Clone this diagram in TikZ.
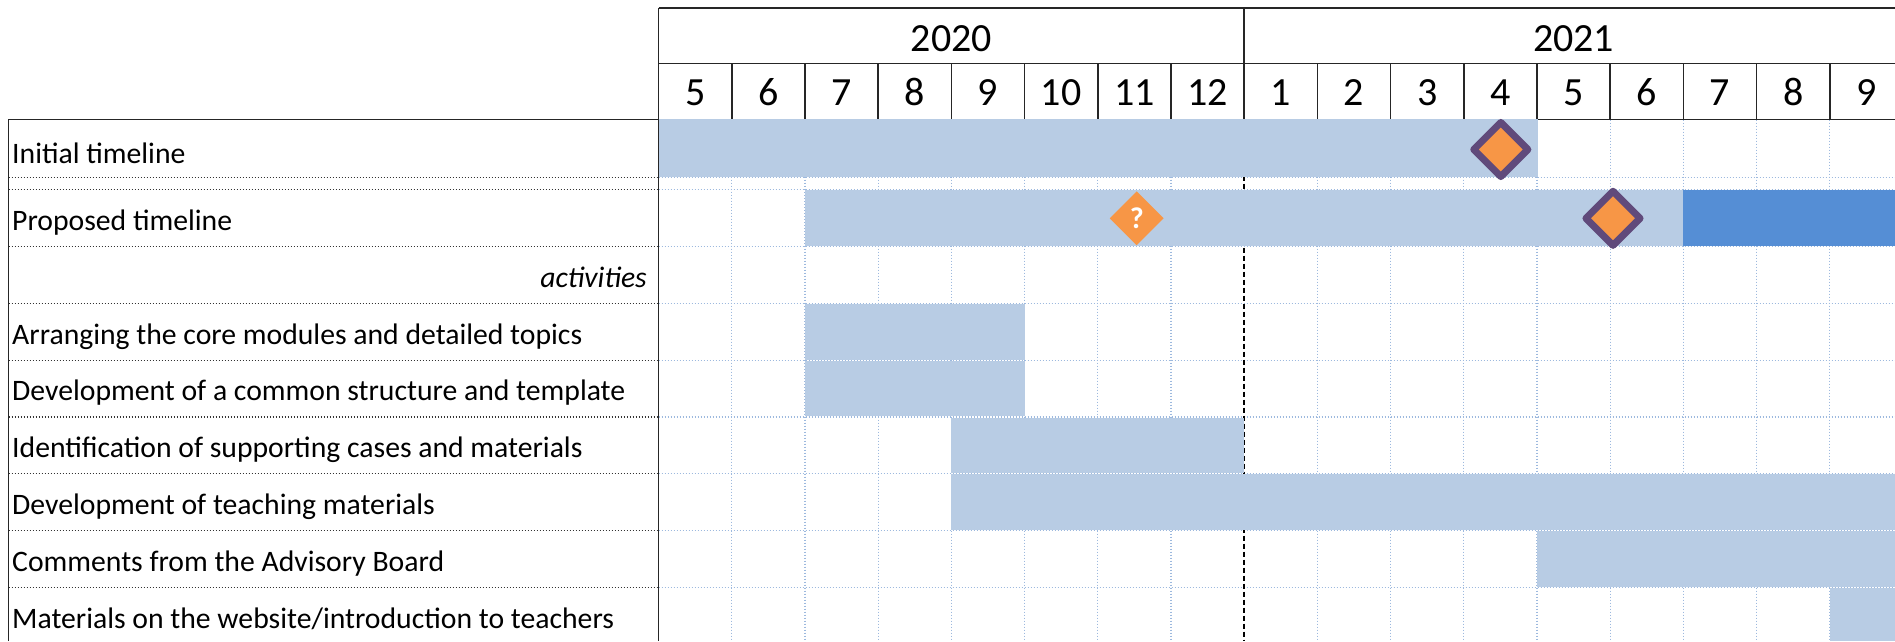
\documentclass[tikz,border=0pt]{standalone}
\usepackage{fontspec}
\setmainfont{Carlito}
\usetikzlibrary{shapes.geometric}
\definecolor{barlight}{HTML}{B8CCE4}
\definecolor{bardark}{HTML}{558ED5}
\definecolor{msorange}{HTML}{F79646}
\definecolor{mspurple}{HTML}{604A7B}
\definecolor{gridblue}{HTML}{9DB9DE}
\tikzset{
  hdrline/.style={line width=1.6pt, draw=black!85},
  gridline/.style={line width=1.2pt, draw=gridblue, dash pattern=on 1.5pt off 1.5pt},
  labline/.style={line width=1.2pt, draw=black!80, dash pattern=on 1.5pt off 1.5pt},
  yeardash/.style={line width=2pt, draw=black, dash pattern=on 5pt off 3pt},
  lightbar/.style={fill=barlight},
  darkbar/.style={fill=bardark},
  lab/.style={anchor=base west, inner sep=0pt, font=\fontsize{29.7}{35}\selectfont},
  hdrtext/.style={anchor=base, inner sep=0pt, font=\fontsize{40}{48}\selectfont},
  milestone/.style={diamond, aspect=1, minimum width=57pt, minimum height=57pt, inner sep=0pt,
     fill=msorange, draw=mspurple, line width=7pt, line join=round},
  qmilestone/.style={diamond, aspect=1, minimum width=54pt, minimum height=54pt, inner sep=0pt,
     fill=msorange, text=white, font=\fontsize{30}{34}\selectfont\bfseries},
}
\begin{document}
\begin{tikzpicture}[x=1pt,y=-1pt]
\useasboundingbox (0,0) rectangle (1895,641);
\clip (0,0) rectangle (1895,641);
\fill[white] (0,0) rectangle (1895,641);
% grid lines in the chart area
\foreach \k in {1,...,16} {
  \ifnum\k=8\relax\else
    \draw[gridline] ({658.6+73.2*\k},119.6) -- ({658.6+73.2*\k},641);
  \fi
}
\foreach \yy in {177.6,189.7,246.5,303.3,360.1,416.9,473.7,530.5,587.3} {
  \draw[gridline] (658.6,\yy) -- (1895,\yy);
  \draw[labline] (8.5,\yy) -- (658.6,\yy);
}
\draw[yeardash] (1244.2,119.6) -- (1244.2,641);
% header
\draw[hdrline] (658.6,8) -- (1895,8);
\draw[hdrline] (658.6,63.5) -- (1895,63.5);
\draw[hdrline] (1244.2,8) -- (1244.2,63.5);
\foreach \k in {1,...,16} {
  \draw[hdrline] ({658.6+73.2*\k},63.5) -- ({658.6+73.2*\k},119.6);
}
\draw[hdrline] (658.6,119.6) -- (1895,119.6);
\draw[hdrline] (8.5,641) -- (8.5,119.6) -- (658.6,119.6);
\draw[hdrline] (658.6,8) -- (658.6,641);
% bars
\fill[lightbar] (659.4,118.6) rectangle (1537.8,177.0);
\fill[lightbar] (805.0,190.3) rectangle (1683.4,245.9);
\fill[darkbar]  (1683.4,190.3) rectangle (1895,245.9);
\fill[lightbar] (805.0,303.9) rectangle (1024.6,359.5);
\fill[lightbar] (805.0,360.7) rectangle (1024.6,416.3);
\fill[lightbar] (951.4,417.5) rectangle (1244.2,473.1);
\fill[lightbar] (951.4,474.3) rectangle (1895,529.9);
\fill[lightbar] (1537.0,531.1) rectangle (1895,586.7);
\fill[lightbar] (1829.8,587.9) rectangle (1895,641);
% years
\node[hdrtext] (y2020) at (951.4,51.7) {2020};
\node[hdrtext] (y2021) at (1573.6,51.7) {2021};
% months
\foreach \m [count=\i from 0] in {5,6,7,8,9,10,11,12,1,2,3,4,5,6,7,8,9} {
  \node[hdrtext] (m\i) at ({658.6+73.2*\i+36.6},105) {\m};
}
% labels
\node[lab] (linit) at (12,163) {Initial timeline};
\node[lab] (lprop) at (12,230.5) {Proposed timeline};
\node[lab, anchor=base east, font=\fontsize{29.7}{35}\selectfont\itshape] (lact) at (647,287.3) {activities};
\node[lab] (larr) at (12,344.1) {Arranging the core modules and detailed topics};
\node[lab] (ldev) at (12,400.9) {Development of a common structure and template};
\node[lab] (lident) at (12,457.7) {Identification of supporting cases and materials};
\node[lab] (lteach) at (12,514.5) {Development of teaching materials};
\node[lab] (lcomm) at (12,571.3) {Comments from the Advisory Board};
\node[lab] (lmat) at (12,628.1) {Materials on the website/introduction to teachers};
% milestones
\node[milestone] (msinit) at (1500.8,149.5) {};
\node[milestone] (msprop) at (1613,218.3) {};
\node[qmilestone] (msq) at (1136.7,218.3) {?};
\end{tikzpicture}
\end{document}
